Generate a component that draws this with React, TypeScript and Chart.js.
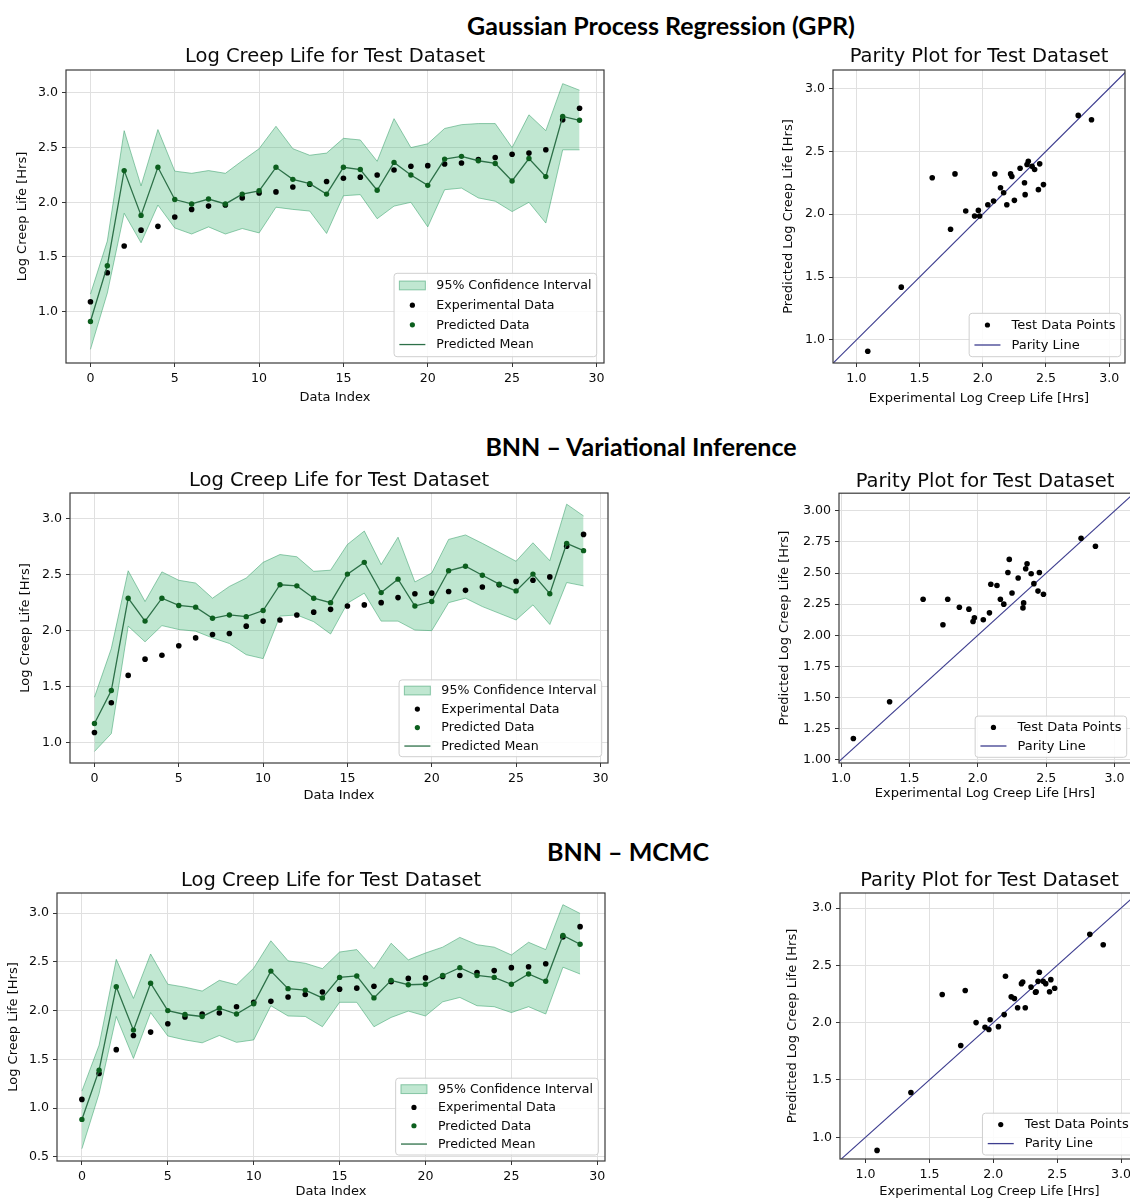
import React, { useEffect, useRef } from "react";
import { Chart, registerables } from "chart.js";

Chart.register(...registerables);

// ---------------- text ----------------
const sectionTitles = ["Gaussian Process Regression (GPR)", "BNN \u2013 Variational Inference", "BNN \u2013 MCMC"];
const lineChartTitle = "Log Creep Life for Test Dataset";
const parityChartTitle = "Parity Plot for Test Dataset";
const indexAxisLabel = "Data Index";
const lifeAxisLabel = "Log Creep Life [Hrs]";
const experimentalAxisLabel = "Experimental Log Creep Life [Hrs]";
const predictedAxisLabel = "Predicted Log Creep Life [Hrs]";
const lineLegendLabels = ["95% Confidence Interval", "Experimental Data", "Predicted Data", "Predicted Mean"];
const parityLegendLabels = ["Test Data Points", "Parity Line"];

// ---------------- ticks ----------------
const indexTicks = [0, 5, 10, 15, 20, 25, 30];
const lifeTicks = [1.0, 1.5, 2.0, 2.5, 3.0];
const lifeTicksMcmc = [0.5, 1.0, 1.5, 2.0, 2.5, 3.0];
const parityTicks = [1.0, 1.5, 2.0, 2.5, 3.0];
const parityTicksFine = [1.0, 1.25, 1.5, 1.75, 2.0, 2.25, 2.5, 2.75, 3.0];
const parityLineEnds = [0.5, 3.5];

// ---------------- data ----------------
const experimental = [1.09, 1.355, 1.6, 1.745, 1.78, 1.865, 1.935, 1.965, 1.975, 2.04, 2.085, 2.095, 2.14, 2.165, 2.19, 2.22, 2.23, 2.25, 2.295, 2.33, 2.335, 2.35, 2.36, 2.39, 2.41, 2.44, 2.45, 2.48, 2.755, 2.86];

const gprPredicted = [0.91, 1.42, 2.29, 1.88, 2.32, 2.025, 1.985, 2.03, 1.985, 2.075, 2.105, 2.32, 2.21, 2.17, 2.075, 2.32, 2.3, 2.11, 2.365, 2.25, 2.155, 2.395, 2.42, 2.38, 2.355, 2.195, 2.4, 2.235, 2.785, 2.75];
const gprUpper = [1.16, 1.645, 2.655, 2.15, 2.665, 2.285, 2.265, 2.29, 2.265, 2.38, 2.49, 2.695, 2.49, 2.43, 2.45, 2.585, 2.57, 2.375, 2.765, 2.5, 2.535, 2.675, 2.71, 2.72, 2.72, 2.5, 2.8, 2.655, 3.085, 3.025];
const gprLower = [0.655, 1.17, 1.9, 1.63, 1.975, 1.765, 1.71, 1.775, 1.71, 1.76, 1.72, 1.955, 1.935, 1.92, 1.715, 2.06, 2.07, 1.85, 1.965, 2.0, 1.775, 2.115, 2.13, 2.04, 2.01, 1.915, 2.0, 1.81, 2.48, 2.48];

const viPredicted = [1.17, 1.465, 2.29, 2.085, 2.29, 2.225, 2.21, 2.11, 2.14, 2.125, 2.18, 2.41, 2.4, 2.29, 2.25, 2.505, 2.61, 2.34, 2.46, 2.22, 2.26, 2.535, 2.575, 2.495, 2.415, 2.355, 2.505, 2.33, 2.78, 2.715];
const viUpper = [1.405, 1.84, 2.535, 2.26, 2.525, 2.45, 2.425, 2.29, 2.395, 2.47, 2.61, 2.68, 2.66, 2.53, 2.54, 2.77, 2.89, 2.59, 2.835, 2.435, 2.515, 2.815, 2.855, 2.78, 2.7, 2.62, 2.785, 2.625, 3.13, 3.025];
const viLower = [0.92, 1.08, 2.04, 1.9, 2.045, 2.01, 1.995, 1.935, 1.885, 1.785, 1.75, 2.13, 2.14, 2.08, 1.97, 2.245, 2.335, 2.085, 2.085, 2.005, 2.0, 2.25, 2.29, 2.215, 2.155, 2.095, 2.23, 2.055, 2.43, 2.4];

const mcmcPredicted = [0.885, 1.39, 2.245, 1.8, 2.28, 2.0, 1.96, 1.94, 2.025, 1.965, 2.07, 2.405, 2.225, 2.21, 2.13, 2.34, 2.355, 2.13, 2.31, 2.265, 2.27, 2.36, 2.44, 2.36, 2.34, 2.27, 2.375, 2.3, 2.77, 2.68];
const mcmcUpper = [1.175, 1.645, 2.525, 2.125, 2.58, 2.27, 2.24, 2.2, 2.31, 2.265, 2.435, 2.715, 2.51, 2.485, 2.43, 2.6, 2.625, 2.43, 2.69, 2.52, 2.59, 2.65, 2.75, 2.675, 2.65, 2.57, 2.7, 2.625, 3.085, 2.995];
const mcmcLower = [0.585, 1.15, 1.94, 1.51, 1.98, 1.74, 1.7, 1.67, 1.745, 1.675, 1.7, 2.05, 1.945, 1.94, 1.835, 2.085, 2.085, 1.835, 1.93, 1.995, 1.945, 2.09, 2.135, 2.05, 2.04, 1.98, 2.04, 1.965, 2.445, 2.375];

// ---------------- styles ----------------
const FONT = "'DejaVu Sans', 'Liberation Sans', sans-serif";
const TITLE_FS = 19.5;
const AXIS_FS = 13;
const TICK_FS = 12.6;
const TEXT_COLOR = "#0a0a0a";
const GRID_COLOR = "#e0e0e0";
const FRAME_COLOR = "#3a3a3a";
const CI_FILL = "rgba(60,179,113,0.32)";
const CI_EDGE = "rgba(60,160,110,0.55)";
const MEAN_GREEN = "#2d7048";
const PRED_GREEN = "#0c5f1e";
const PARITY_BLUE = "#3d3d8f";

// ---------------- plugins ----------------
const framePlugin = {
  id: "frame",
  afterDraw(chart: any) {
    const { ctx, chartArea } = chart;
    ctx.save();
    ctx.strokeStyle = FRAME_COLOR;
    ctx.lineWidth = 1.2;
    ctx.strokeRect(chartArea.left, chartArea.top, chartArea.right - chartArea.left, chartArea.bottom - chartArea.top);
    ctx.restore();
  },
};

const boxLegendPlugin = {
  id: "boxLegend",
  afterDraw(chart: any, _args: any, opts: any) {
    if (!opts || !opts.display) return;
    const { ctx, chartArea } = chart;
    const items = chart.data.datasets
      .filter((d: any) => d.legendKind)
      .sort((a: any, b: any) => a.legendRank - b.legendRank);
    const fs = opts.fontSize;
    ctx.save();
    ctx.font = `${fs}px ${FONT}`;
    const textW = Math.max(...items.map((d: any) => ctx.measureText(d.label).width));
    const padX = opts.padX, handleLen = opts.handleLen, gap = opts.gap;
    const w = padX + handleLen + gap + textW + padX;
    const h = opts.padY * 2 + opts.rowH * items.length;
    const x0 = chartArea.right - opts.marginRight - w;
    const y0 = chartArea.bottom - opts.marginBottom - h;
    ctx.beginPath();
    if ((ctx as any).roundRect) (ctx as any).roundRect(x0, y0, w, h, 3);
    else ctx.rect(x0, y0, w, h);
    ctx.fillStyle = "rgba(255,255,255,0.85)";
    ctx.fill();
    ctx.strokeStyle = "#cfcfcf";
    ctx.lineWidth = 1;
    ctx.stroke();
    items.forEach((d: any, i: number) => {
      const cy = y0 + opts.padY + opts.rowH * (i + 0.5);
      const hx = x0 + padX;
      if (d.legendKind === "patch") {
        const ph = 0.7 * fs;
        ctx.fillStyle = d.backgroundColor;
        ctx.fillRect(hx, cy - ph / 2, handleLen, ph);
        ctx.strokeStyle = d.borderColor;
        ctx.lineWidth = 1;
        ctx.strokeRect(hx, cy - ph / 2, handleLen, ph);
      } else if (d.legendKind === "dot") {
        ctx.beginPath();
        ctx.arc(hx + handleLen / 2, cy, 2.6, 0, Math.PI * 2);
        ctx.fillStyle = d.pointBackgroundColor;
        ctx.fill();
      } else if (d.legendKind === "line") {
        ctx.beginPath();
        ctx.moveTo(hx, cy);
        ctx.lineTo(hx + handleLen, cy);
        ctx.strokeStyle = d.borderColor;
        ctx.lineWidth = 1.3;
        ctx.stroke();
      }
      ctx.fillStyle = TEXT_COLOR;
      ctx.textAlign = "left";
      ctx.textBaseline = "middle";
      ctx.fillText(d.label, hx + handleLen + gap, cy + 0.5);
    });
    ctx.restore();
  },
};

Chart.register(framePlugin, boxLegendPlugin);

// ---------------- geometry ----------------
type Geo = {
  plot: { l: number; t: number; r: number; b: number };
  canvasLeft: number;
  titleCY: number;
  yTitleX: number;
  xTitleY: number;
};

function computeBox(g: Geo) {
  const titleLH = TITLE_FS * 1.2;
  const axisLH = AXIS_FS * 1.2;
  const top = Math.floor(g.titleCY - titleLH / 2);
  const titlePadTop = g.titleCY - titleLH / 2 - top;
  const titleBoxH = g.plot.t - top;
  const titlePadBottom = Math.max(0, titleBoxH - titleLH - titlePadTop);
  const yAxisW = g.plot.l - g.canvasLeft;
  const yTitlePad = g.yTitleX - g.canvasLeft - axisLH / 2;
  const rightPad = 10;
  const w = Math.round(g.plot.r + rightPad - g.canvasLeft);
  const h = Math.round(g.xTitleY + axisLH / 2 + 2 - top);
  const xAxisH = h - (g.plot.b - top);
  const xTitlePad = xAxisH - (g.xTitleY - g.plot.b) - axisLH / 2;
  return { x: g.canvasLeft, y: top, w, h, titlePadTop, titlePadBottom, yAxisW, yTitlePad, xAxisH, xTitlePad, rightPad };
}

function makeAxis(axis: "x" | "y", min: number, max: number, ticks: number[], decimals: number, title: string, size: number, titlePad: number) {
  return {
    type: "linear",
    position: axis === "x" ? "bottom" : "left",
    min,
    max,
    afterBuildTicks: (s: any) => {
      s.ticks = ticks.map((v) => ({ value: v }));
    },
    afterFit: (s: any) => {
      if (axis === "x") s.height = size;
      else s.width = size;
    },
    ticks: {
      autoSkip: false,
      maxRotation: 0,
      padding: 4,
      color: TEXT_COLOR,
      font: { family: FONT, size: TICK_FS },
      callback: (v: any) => Number(v).toFixed(decimals),
    },
    grid: { color: GRID_COLOR, lineWidth: 1, tickLength: 4, tickColor: "#333333", drawTicks: true },
    border: { display: false },
    title: {
      display: true,
      text: title,
      color: TEXT_COLOR,
      font: { family: FONT, size: AXIS_FS },
      padding: axis === "x" ? { top: 0, bottom: titlePad } : { top: titlePad, bottom: 0 },
    },
  };
}

type LegendGeo = { fontSize: number; rowH: number; padY: number; marginRight: number; marginBottom: number };

function baseOptions(box: any, title: string, xAxis: any, yAxis: any, lg: LegendGeo) {
  return {
    responsive: false,
    maintainAspectRatio: false,
    animation: false,
    events: [],
    devicePixelRatio: 1,
    layout: { padding: { top: 0, left: 0, right: box.rightPad, bottom: 0 } },
    plugins: {
      legend: { display: false },
      tooltip: { enabled: false },
      title: {
        display: true,
        text: title,
        fullSize: false,
        color: TEXT_COLOR,
        font: { family: FONT, size: TITLE_FS, weight: "normal" },
        padding: { top: box.titlePadTop, bottom: box.titlePadBottom },
      },
      boxLegend: { display: true, padX: 5.3, handleLen: 26, gap: 11, ...lg },
    },
    scales: { x: xAxis, y: yAxis },
  };
}

function lineChartConfig(box: any, pred: number[], upper: number[], lower: number[], yMin: number, yMax: number, yTicks: number[], lg: LegendGeo) {
  const pts = (arr: number[]) => arr.map((v, i) => ({ x: i, y: v }));
  return {
    type: "scatter",
    data: {
      datasets: [
        {
          label: lineLegendLabels[2],
          data: pts(pred),
          showLine: false,
          pointRadius: 2.7,
          pointBackgroundColor: PRED_GREEN,
          pointBorderColor: PRED_GREEN,
          pointBorderWidth: 0,
          order: 0,
          legendKind: "dot",
          legendRank: 2,
        },
        {
          label: lineLegendLabels[3],
          data: pts(pred),
          showLine: true,
          pointRadius: 0,
          borderColor: MEAN_GREEN,
          borderWidth: 1.3,
          fill: false,
          order: 1,
          legendKind: "line",
          legendRank: 3,
        },
        {
          label: lineLegendLabels[1],
          data: pts(experimental),
          showLine: false,
          pointRadius: 2.8,
          pointBackgroundColor: "#000000",
          pointBorderColor: "#000000",
          pointBorderWidth: 0,
          order: 2,
          legendKind: "dot",
          legendRank: 1,
        },
        {
          label: "ci-lower",
          data: pts(lower),
          showLine: true,
          pointRadius: 0,
          borderColor: CI_EDGE,
          borderWidth: 1,
          fill: false,
          order: 4,
        },
        {
          label: lineLegendLabels[0],
          data: pts(upper),
          showLine: true,
          pointRadius: 0,
          borderColor: CI_EDGE,
          borderWidth: 1,
          backgroundColor: CI_FILL,
          fill: "-1",
          order: 3,
          legendKind: "patch",
          legendRank: 0,
        },
      ],
    },
    options: baseOptions(
      box,
      lineChartTitle,
      makeAxis("x", -1.45, 30.45, indexTicks, 0, indexAxisLabel, box.xAxisH, box.xTitlePad),
      makeAxis("y", yMin, yMax, yTicks, 1, lifeAxisLabel, box.yAxisW, box.yTitlePad),
      lg
    ),
  };
}

function parityChartConfig(box: any, pred: number[], xr: number[], yr: number[], yTicks: number[], yDec: number, lg: LegendGeo) {
  return {
    type: "scatter",
    data: {
      datasets: [
        {
          label: parityLegendLabels[0],
          data: experimental.map((x, i) => ({ x, y: pred[i] })),
          showLine: false,
          pointRadius: 2.8,
          pointBackgroundColor: "#000000",
          pointBorderColor: "#000000",
          pointBorderWidth: 0,
          order: 0,
          legendKind: "dot",
          legendRank: 0,
        },
        {
          label: parityLegendLabels[1],
          data: parityLineEnds.map((v) => ({ x: v, y: v })),
          showLine: true,
          pointRadius: 0,
          borderColor: PARITY_BLUE,
          borderWidth: 1.1,
          fill: false,
          order: 1,
          legendKind: "line",
          legendRank: 1,
        },
      ],
    },
    options: baseOptions(
      box,
      parityChartTitle,
      makeAxis("x", xr[0], xr[1], parityTicks, 1, experimentalAxisLabel, box.xAxisH, box.xTitlePad),
      makeAxis("y", yr[0], yr[1], yTicks, yDec, predictedAxisLabel, box.yAxisW, box.yTitlePad),
      lg
    ),
  };
}

// ---------------- panels ----------------
const geoGprLine: Geo = { plot: { l: 66, t: 70, r: 604, b: 363 }, canvasLeft: 0, titleCY: 56.5, yTitleX: 22.5, xTitleY: 398 };
const geoGprParity: Geo = { plot: { l: 833, t: 70, r: 1125, b: 363 }, canvasLeft: 770, titleCY: 56.5, yTitleX: 789, xTitleY: 399 };
const geoViLine: Geo = { plot: { l: 70, t: 493, r: 608, b: 763 }, canvasLeft: 0, titleCY: 480.5, yTitleX: 26, xTitleY: 796 };
const geoViParity: Geo = { plot: { l: 839, t: 493, r: 1131, b: 763 }, canvasLeft: 770, titleCY: 481.5, yTitleX: 785, xTitleY: 794 };
const geoMcmcLine: Geo = { plot: { l: 57, t: 893, r: 605, b: 1161 }, canvasLeft: 0, titleCY: 880.5, yTitleX: 13.5, xTitleY: 1192 };
const geoMcmcParity: Geo = { plot: { l: 840, t: 893, r: 1139, b: 1159 }, canvasLeft: 770, titleCY: 880.5, yTitleX: 793, xTitleY: 1192 };

type Panel = { box: any; build: (box: any) => any };

const panels: Panel[] = [
  {
    box: computeBox(geoGprLine),
    build: (b) => lineChartConfig(b, gprPredicted, gprUpper, gprLower, 0.53, 3.21, lifeTicks, { fontSize: 12.6, rowH: 19.7, padY: 2.3, marginRight: 7.3, marginBottom: 6.3 }),
  },
  {
    box: computeBox(geoGprParity),
    build: (b) => parityChartConfig(b, gprPredicted, [0.815, 3.125], [0.817, 3.146], parityTicks, 1, { fontSize: 13, rowH: 20, padY: 1.7, marginRight: 4.3, marginBottom: 6.3 }),
  },
  {
    box: computeBox(geoViLine),
    build: (b) => lineChartConfig(b, viPredicted, viUpper, viLower, 0.817, 3.23, lifeTicks, { fontSize: 12.6, rowH: 18.5, padY: 1.4, marginRight: 6.3, marginBottom: 6.3 }),
  },
  {
    box: computeBox(geoViParity),
    build: (b) => parityChartConfig(b, viPredicted, [0.985, 3.12], [0.973, 3.142], parityTicksFine, 2, { fontSize: 13, rowH: 18.6, padY: 2, marginRight: 4.3, marginBottom: 5.7 }),
  },
  {
    box: computeBox(geoMcmcLine),
    build: (b) => lineChartConfig(b, mcmcPredicted, mcmcUpper, mcmcLower, 0.459, 3.205, lifeTicksMcmc, { fontSize: 12.6, rowH: 18.3, padY: 1.8, marginRight: 6.7, marginBottom: 6 }),
  },
  {
    box: computeBox(geoMcmcParity),
    build: (b) => parityChartConfig(b, mcmcPredicted, [0.8, 3.14], [0.81, 3.131], parityTicks, 1, { fontSize: 13, rowH: 19, padY: 1.9, marginRight: 5, marginBottom: 4 }),
  },
];

function ChartPanel({ panel }: { panel: Panel }) {
  const ref = useRef<HTMLCanvasElement | null>(null);
  useEffect(() => {
    if (!ref.current) return;
    const chart = new Chart(ref.current, panel.build(panel.box) as any);
    return () => chart.destroy();
  }, [panel]);
  const b = panel.box;
  return (
    <canvas
      ref={ref}
      width={b.w}
      height={b.h}
      style={{ position: "absolute", left: b.x, top: b.y, width: b.w, height: b.h }}
    />
  );
}

const sectionTitlePos = [
  { cx: 661, cy: 25 },
  { cx: 641, cy: 446 },
  { cx: 628, cy: 851 },
];

export default function App() {
  return (
    <div
      style={{
        position: "absolute",
        left: 0,
        top: 0,
        width: 1130,
        height: 1199,
        overflow: "hidden",
        background: "#ffffff",
      }}
    >
      {sectionTitles.map((t, i) => (
        <div
          key={t}
          style={{
            position: "absolute",
            left: sectionTitlePos[i].cx - 400,
            top: sectionTitlePos[i].cy - 16,
            width: 800,
            height: 32,
            lineHeight: "32px",
            textAlign: "center",
            fontFamily: "Lato, 'Open Sans', sans-serif",
            fontWeight: 700,
            fontSize: 25,
            color: "#000000",
          }}
        >
          {t}
        </div>
      ))}
      {panels.map((p, i) => (
        <ChartPanel key={i} panel={p} />
      ))}
    </div>
  );
}
